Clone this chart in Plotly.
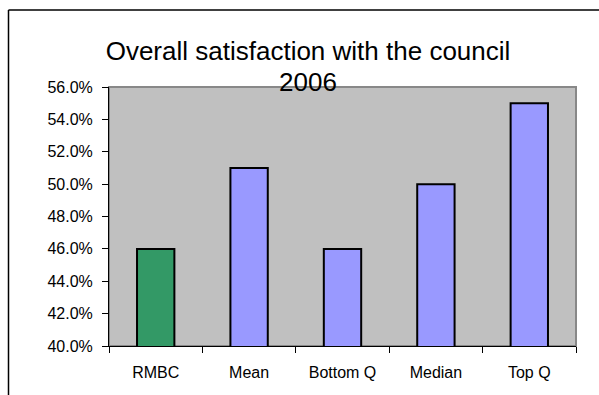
import plotly.graph_objects as go

categories = ["RMBC", "Mean", "Bottom Q", "Median", "Top Q"]
values = [0.46, 0.51, 0.46, 0.50, 0.55]
bar_colors = ["#339966", "#9999FF", "#9999FF", "#9999FF", "#9999FF"]
y_ticks = [0.40, 0.42, 0.44, 0.46, 0.48, 0.50, 0.52, 0.54, 0.56]
title_line1 = "Overall satisfaction with the council"
title_line2 = "2006"

W, H = 599, 395
L, R, T, B = 109, 23, 87, 49
pw = W - L - R
ph = H - T - B

fig = go.Figure(go.Bar(
    x=categories, y=values, width=0.4,
    marker=dict(color=bar_colors, line=dict(color="black", width=2)),
))

font_family = "Liberation Sans, Arial, sans-serif"

fig.update_layout(
    width=W, height=H,
    margin=dict(l=L, r=R, t=T, b=B, pad=0),
    paper_bgcolor="white",
    plot_bgcolor="#C0C0C0",
    showlegend=False,
    font=dict(family=font_family, size=16, color="black"),
    title=dict(
        text=title_line1,
        font=dict(family=font_family, size=26, color="black"),
        x=308 / W, xanchor="center", xref="container",
        y=1 - 51 / H, yanchor="middle", yref="container",
    ),
    bargap=0.6,
)

fig.add_annotation(
    text=title_line2, showarrow=False,
    xref="paper", yref="paper",
    x=(308 - L) / pw, y=(H - B - 82) / ph,
    xanchor="center", yanchor="middle",
    font=dict(family=font_family, size=26, color="black"),
)

fig.update_xaxes(
    range=[-0.5, 4.5],
    showgrid=False, zeroline=False,
    showline=True, linecolor="black", linewidth=1,
    ticks="outside", ticklen=6, tickcolor="black", tickwidth=1,
    tickson="boundaries",
    tickfont=dict(size=16),
    ticklabelstandoff=12,
)
fig.update_yaxes(
    range=[0.40, 0.56],
    tickvals=y_ticks, tickformat=".1%",
    showgrid=False, zeroline=False,
    showline=True, linecolor="black", linewidth=1,
    ticks="outside", ticklen=6, tickcolor="black", tickwidth=1,
    tickfont=dict(size=16),
    ticklabelstandoff=6,
)

# plot-area grey frame (top/right visible), drawn below axis lines
fig.add_shape(type="rect", xref="paper", yref="paper", x0=0, y0=0, x1=1, y1=1,
              line=dict(color="#888888", width=2), layer="below")

# outer chart frame (cropped: only top and left edges visible)
left_px, top_px = 8.5, 10
fx = (left_px - L) / pw
fy = (H - B - top_px) / ph
fig.add_shape(type="line", xref="paper", yref="paper", x0=fx, x1=(W + 5 - L) / pw, y0=fy, y1=fy,
              line=dict(color="black", width=1.5))
fig.add_shape(type="line", xref="paper", yref="paper", x0=fx, x1=fx, y0=fy, y1=(-B - 5) / ph,
              line=dict(color="black", width=1.5))

fig.write_html("out.html")
